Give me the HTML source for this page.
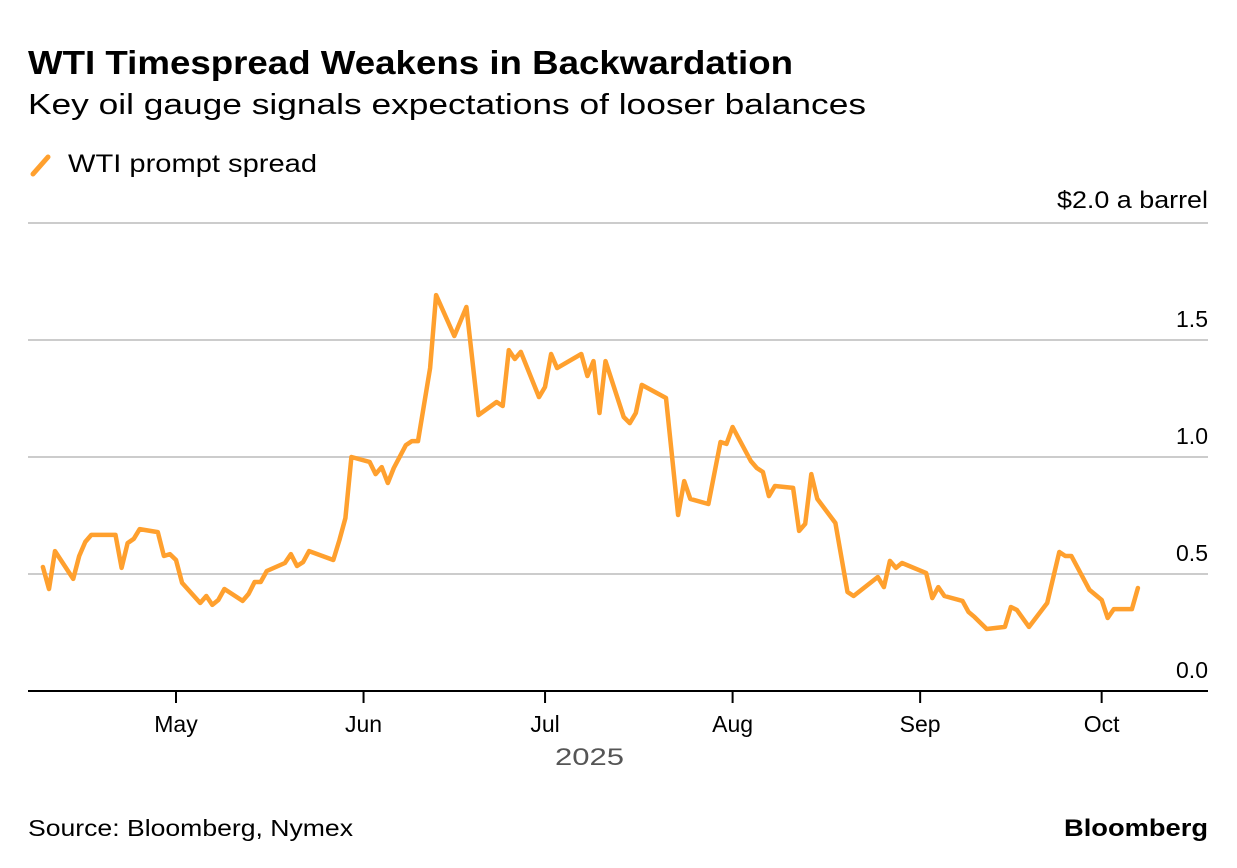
<!DOCTYPE html>
<html><head><meta charset="utf-8">
<style>
body{margin:0;background:#fff;font-family:"Liberation Sans",sans-serif;}
#wrap{position:relative;width:1237px;height:868px;overflow:hidden;}
</style></head>
<body>
<div id="wrap">
<svg id="chart" width="1237" height="868" font-family="Liberation Sans, sans-serif">
  <text x="28" y="74" font-size="33" font-weight="bold" fill="#000" textLength="765" lengthAdjust="spacingAndGlyphs">WTI Timespread Weakens in Backwardation</text>
  <text x="28" y="114" font-size="29" fill="#000" textLength="838" lengthAdjust="spacingAndGlyphs">Key oil gauge signals expectations of looser balances</text>
  <line x1="33" y1="174" x2="48" y2="157" stroke="#ffa02e" stroke-width="5" stroke-linecap="round"/>
  <text x="68" y="172" font-size="25" fill="#000" textLength="249" lengthAdjust="spacingAndGlyphs">WTI prompt spread</text>
  <text x="1057" y="208" font-size="24" fill="#000" textLength="151" lengthAdjust="spacingAndGlyphs">$2.0 a barrel</text>
  <g id="grid"></g>
  <g id="xaxis"></g>
  <path id="series" fill="none" stroke="#ffa02e" stroke-width="4.5" stroke-linejoin="round" stroke-linecap="round"/>
  <text x="555" y="765" font-size="24" fill="#555" textLength="69" lengthAdjust="spacingAndGlyphs">2025</text>
  <text x="28" y="836" font-size="23" fill="#000" textLength="325" lengthAdjust="spacingAndGlyphs">Source: Bloomberg, Nymex</text>
  <text x="1064" y="836" font-size="24" font-weight="bold" fill="#000" textLength="144" lengthAdjust="spacingAndGlyphs">Bloomberg</text>
</svg>
</div>
<script>
// days since 2025-04-01
const days = [8,9,10,13,14,15,16,20,21,22,23,24,27,28,29,30,31,34,35,36,37,38,41,42,43,44,45,48,49,50,51,52,56,57,58,59,62,63,64,65,66,68,69,70,72,73,76,78,80,83,84,85,86,87,90,91,92,93,97,98,99,100,101,104,105,106,107,111,113,114,115,118,120,121,122,125,126,127,128,129,132,133,134,135,136,139,141,142,146,147,148,149,150,154,155,156,157,160,161,162,164,167,168,169,171,174,176,177,178,181,183,184,185,188,189];
const values = [0.53,0.436,0.598,0.479,0.577,0.637,0.667,0.667,0.526,0.632,0.65,0.692,0.679,0.577,0.585,0.56,0.462,0.376,0.406,0.368,0.389,0.436,0.385,0.415,0.466,0.466,0.513,0.547,0.585,0.534,0.551,0.598,0.56,0.645,0.739,1.0,0.979,0.927,0.957,0.889,0.953,1.051,1.068,1.068,1.38,1.692,1.517,1.641,1.179,1.235,1.218,1.457,1.419,1.449,1.256,1.299,1.44,1.38,1.44,1.346,1.41,1.188,1.41,1.171,1.145,1.188,1.308,1.252,0.752,0.897,0.821,0.799,1.064,1.056,1.128,0.983,0.953,0.936,0.833,0.876,0.868,0.684,0.714,0.927,0.821,0.718,0.423,0.406,0.487,0.444,0.556,0.526,0.547,0.504,0.397,0.444,0.406,0.385,0.338,0.316,0.265,0.274,0.359,0.346,0.274,0.376,0.594,0.577,0.577,0.432,0.389,0.312,0.35,0.35,0.44];
const yTicks = [0,0.5,1.0,1.5,2.0];
const yTickLabels = ["0.0","0.5","1.0","1.5",""];
const monthDays = [30,61,91,122,153,183];
const monthLabels = ["May","Jun","Jul","Aug","Sep","Oct"];

const NS="http://www.w3.org/2000/svg";
function xS(d){return 176+(d-30)*6.05;}
function yS(v){return 691-v*234;}
const grid=document.getElementById('grid');
yTicks.forEach((t,i)=>{
  if(t>0){
    const l=document.createElementNS(NS,'line');
    l.setAttribute('x1',28);l.setAttribute('x2',1208);
    l.setAttribute('y1',yS(t));l.setAttribute('y2',yS(t));
    l.setAttribute('stroke','#cccccc');l.setAttribute('stroke-width','2');
    
    
    grid.appendChild(l);
  }
  if(yTickLabels[i]){
    const tx=document.createElementNS(NS,'text');
    tx.setAttribute('x',1208);tx.setAttribute('y',yS(t)-13);
    tx.setAttribute('text-anchor','end');tx.setAttribute('font-size','23');
    tx.textContent=yTickLabels[i];
    
    
    grid.appendChild(tx);
  }
});
const xa=document.getElementById('xaxis');
const ax=document.createElementNS(NS,'line');
ax.setAttribute('x1',28);ax.setAttribute('x2',1208);ax.setAttribute('y1',691);ax.setAttribute('y2',691);
ax.setAttribute('stroke','#000');ax.setAttribute('stroke-width','2');


xa.appendChild(ax);
monthDays.forEach((d,i)=>{
  const tk=document.createElementNS(NS,'line');
  tk.setAttribute('x1',xS(d));tk.setAttribute('x2',xS(d));tk.setAttribute('y1',691);tk.setAttribute('y2',703);
  tk.setAttribute('stroke','#000');tk.setAttribute('stroke-width','2');
  
  
  xa.appendChild(tk);
  const tx=document.createElementNS(NS,'text');
  tx.setAttribute('x',xS(d));tx.setAttribute('y',732);
  tx.setAttribute('text-anchor','middle');tx.setAttribute('font-size','23');
  tx.textContent=monthLabels[i];
  
  
  xa.appendChild(tx);
});
const p=document.getElementById('series');
p.setAttribute('d',days.map((d,i)=>(i?'L':'M')+xS(d).toFixed(1)+','+yS(values[i]).toFixed(1)).join(''));


</script>
</body></html>
